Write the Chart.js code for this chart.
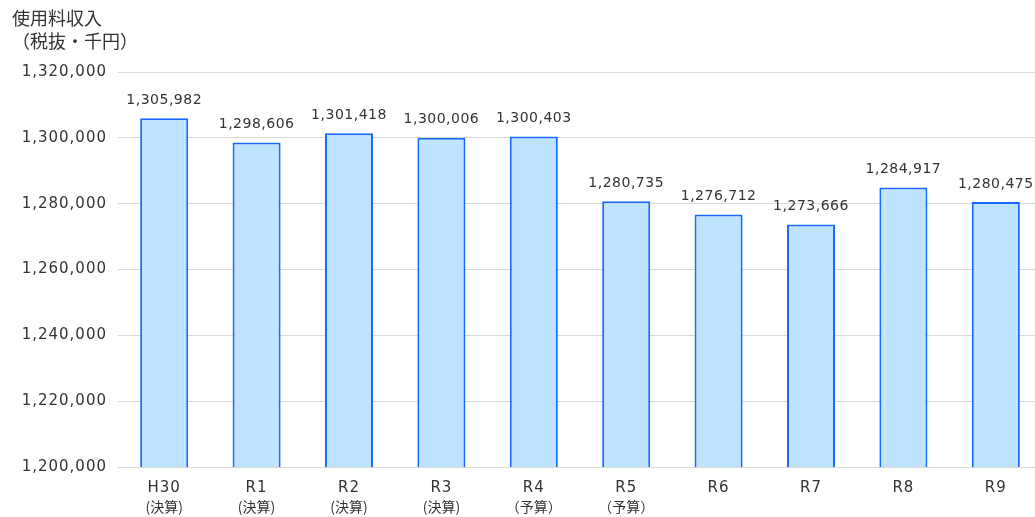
<!DOCTYPE html>
<html lang="ja">
<head>
<meta charset="utf-8">
<title>使用料収入</title>
<script src="https://cdn.jsdelivr.net/npm/chart.js@4/dist/chart.umd.min.js"></script>
<style>
  html, body { margin: 0; padding: 0; background: #ffffff; overflow: hidden; }
  #wrap { width: 1042px; height: 517px; }
</style>
</head>
<body>
<div id="wrap"><canvas id="chart" width="1042" height="517"></canvas></div>
<script>
// Fiscal years and the note under each year (settled / budget)
const categories = ['H30', 'R1', 'R2', 'R3', 'R4', 'R5', 'R6', 'R7', 'R8', 'R9'];
const subLabels = ['(決算)', '(決算)', '(決算)', '(決算)', '（予算）', '（予算）', '', '', '', ''];
// Fee revenue, excluding tax, in thousand yen
const revenue = [1305982, 1298606, 1301418, 1300006, 1300403, 1280735, 1276712, 1273666, 1284917, 1280475];
// Value axis range
const yMin = 1200000;
const yMax = 1320000;
const yStep = 20000;
const titleLines = ['使用料収入', '（税抜・千円）'];

const TEXT = '#333333';
const NUM_FONT = '"DejaVu Sans", sans-serif';
const JP_FONT = '"Noto Sans CJK JP", sans-serif';
const fmt = v => v.toLocaleString('en-US');

const extras = {
  id: 'extras',
  beforeDraw(chart) {
    chart.ctx.letterSpacing = '1px';
  },
  afterDraw(chart) {
    const ctx = chart.ctx;
    const meta = chart.getDatasetMeta(0);
    const xs = chart.scales.x;
    ctx.save();
    // value labels above bars
    ctx.letterSpacing = '0.5px';
    ctx.font = '14px ' + NUM_FONT;
    ctx.fillStyle = TEXT;
    ctx.textAlign = 'center';
    ctx.textBaseline = 'middle';
    meta.data.forEach((bar, i) => {
      ctx.fillText(fmt(revenue[i]), bar.x, bar.y - 18);
    });
    // second line of the category labels
    ctx.letterSpacing = '0px';
    ctx.font = '14px ' + JP_FONT;
    subLabels.forEach((s, i) => {
      if (s) ctx.fillText(s, xs.getPixelForTick(i), 507);
    });
    // axis title
    ctx.textAlign = 'left';
    ctx.font = '18px ' + JP_FONT;
    ctx.fillText(titleLines[0], 12, 18);
    ctx.fillText(titleLines[1], 12, 41);
    ctx.restore();
  }
};

new Chart(document.getElementById('chart'), {
  type: 'bar',
  data: {
    labels: categories,
    datasets: [{
      data: revenue,
      backgroundColor: '#bfe4ff',
      borderColor: '#1769ff',
      borderWidth: 2,
      borderSkipped: 'start',
      barPercentage: 0.52,
      categoryPercentage: 1
    }]
  },
  options: {
    responsive: false,
    animation: false,
    devicePixelRatio: 1,
    layout: { padding: { top: 72, right: 0, left: 0, bottom: 0 } },
    plugins: { legend: { display: false }, tooltip: { enabled: false } },
    scales: {
      x: {
        grid: { display: false, drawTicks: false },
        border: { display: false },
        ticks: { color: TEXT, font: { family: NUM_FONT, size: 15 }, padding: 12, maxRotation: 0 },
        afterFit(scale) { scale.height = 50; }
      },
      y: {
        min: yMin,
        max: yMax,
        grid: { color: '#d9d9d9', lineWidth: 1, drawTicks: false },
        border: { display: false },
        ticks: {
          stepSize: yStep,
          color: TEXT,
          font: { family: NUM_FONT, size: 15 },
          padding: 11,
          callback: v => fmt(v)
        },
        afterFit(scale) { scale.width = 118; }
      }
    }
  },
  plugins: [extras]
});
</script>
</body>
</html>
